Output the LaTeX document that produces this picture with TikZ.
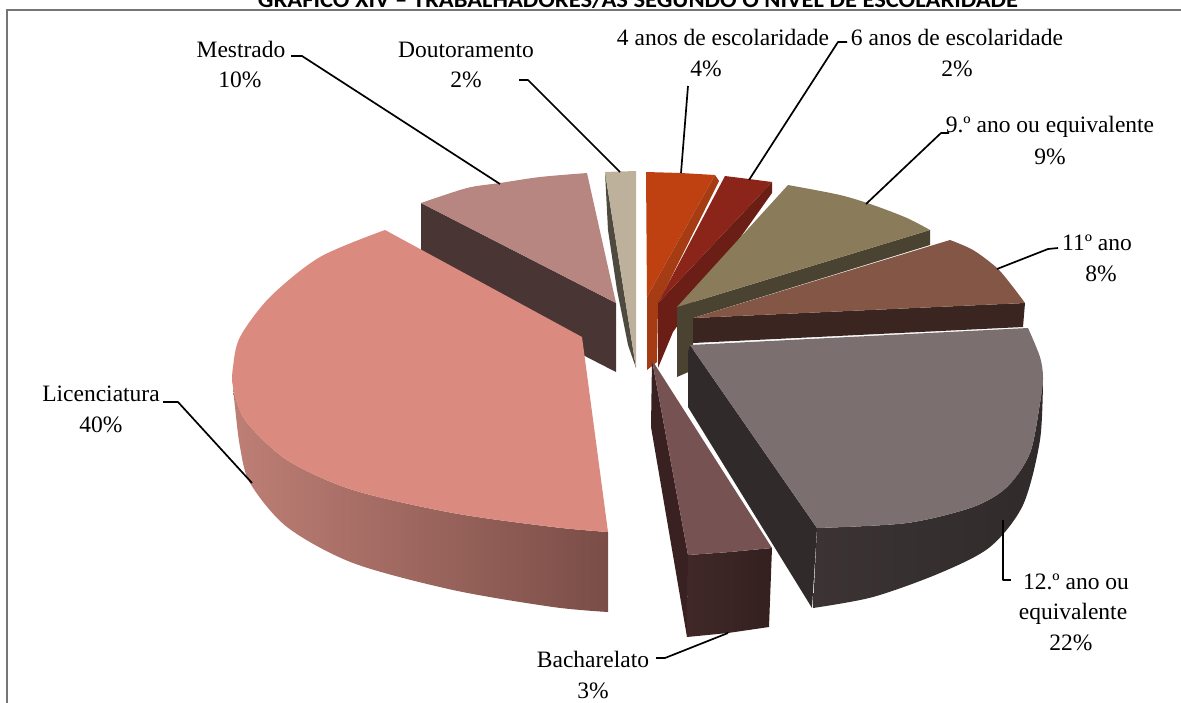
\documentclass[tikz,border=0pt]{standalone}
\usepackage{graphicx}
\usepackage{fontspec}
\setmainfont{Liberation Serif}
\newfontfamily\titlefont{Carlito}
\definecolor{licTop}{HTML}{DB8A80}
\definecolor{licL}{HTML}{BE7F75}
\definecolor{licR}{HTML}{7A4D47}
\definecolor{mesTop}{HTML}{B88680}
\definecolor{mesWall}{HTML}{4A3535}
\definecolor{douTop}{HTML}{BEB19C}
\definecolor{douSide}{HTML}{4F4A40}
\definecolor{qfTop}{HTML}{BF4111}
\definecolor{qfSide}{HTML}{A53C14}
\definecolor{qsTop}{HTML}{8B251A}
\definecolor{qsSide}{HTML}{6B1E15}
\definecolor{qnTop}{HTML}{8A7B5A}
\definecolor{qnSide}{HTML}{4B4332}
\definecolor{qeTop}{HTML}{845646}
\definecolor{qeSide}{HTML}{3A2520}
\definecolor{qtTop}{HTML}{7B6F6F}
\definecolor{qtWall}{HTML}{302A2A}
\definecolor{qtWallL}{HTML}{3C3434}
\definecolor{bachTop}{HTML}{765252}
\definecolor{bachWallL}{HTML}{402828}
\definecolor{bachWallR}{HTML}{342020}
\definecolor{bachInner}{HTML}{3A2121}
\definecolor{frameGray}{HTML}{767676}
\begin{document}
\begin{tikzpicture}[x=1pt,y=-1pt,
  lab/.style={font=\fontsize{23.5}{30}\selectfont, anchor=base, inner sep=0pt},
  lead/.style={draw=black, line width=1.7pt, line join=round},
  framel/.style={draw=frameGray, line width=2pt}]
\useasboundingbox (0,0) rectangle (1181,702);
% frame and title
\coordinate (fTL) at (7,10);
\coordinate (fTR) at (1185,10);
\coordinate (fBL) at (7,706);
\draw[framel] (fTR) -- (fTL) -- (fBL);
\node[anchor=base, inner sep=0pt] (title) at (638,7) {\resizebox{760pt}{19pt}{\titlefont\bfseries GRÁFICO XIV – TRABALHADORES/AS SEGUNDO O NÍVEL DE ESCOLARIDADE}};

% Doutoramento
\fill[douSide] (605,172) -- (636,368) -- (628,345) -- (617,290) -- (608,230) -- cycle;
\fill[douTop] (605,172) -- (636,171) -- (636,368) -- cycle;

% Mestrado
\fill[mesWall] (421,203) -- (616,303) -- (616,372) -- (421,272) -- cycle;
\fill[mesTop] (421,203) -- plot[smooth] coordinates {(421,203) (467,188) (500,183) (540,177) (587,173)} -- (616,303) -- cycle;

% 4 anos
\fill[qfSide] (715,175) -- (719,181) -- (658,304) -- (657,362) -- (647,370) -- (647,297) -- cycle;
\fill[qfTop] (646,172) -- (681,173) -- (715,175) -- (647,297) -- cycle;

% 6 anos
\fill[qsSide] (772,182) -- (772,193) -- (673,332) -- (658,368) -- (658,303) -- cycle;
\fill[qsTop] (725,176) -- (749,179) -- (772,182) -- (658,303) -- cycle;

% 9 ano
\fill[qnSide] (930,230) -- (930,245) -- (693,318) -- (693,370) -- (677,377) -- (677,307) -- cycle;
\fill[qnTop] (677,307) -- plot[smooth] coordinates {(788,185) (840,195) (873,205) (907,218) (930,230)} -- cycle;

% 11 ano
\fill[qeSide] (693,318) -- (1025,303) -- (1023,327) -- (693,343) -- cycle;
\fill[qeTop] (693,318) -- plot[smooth] coordinates {(950,240) (973,250) (997,268) (1013,287) (1025,303)} -- cycle;

% Bacharelato
\fill[bachInner] (652,360) -- (688,555) -- (687,637) -- (651,427) -- cycle;
\shade[left color=bachWallL, right color=bachWallR] (688,555) -- (730,552) -- (772,548) -- (769,627) -- (728,633) -- (687,637) -- cycle;
\fill[bachTop] (652,360) -- (772,548) -- (730,552) -- (688,555) -- cycle;

% 12 ano
\fill[qtWall] (690,345) -- (817,528) -- (812,608) -- (688,407) -- (688,352) -- cycle;
\shade[left color=qtWallL, right color=qtWall] plot[smooth] coordinates {(817,528) (907,523) (973,507) (1007,487) (1030,453) (1040,403) (1043,378)} -- plot[smooth] coordinates {(1043,378) (1040,440) (1023,505) (990,547) (940,573) (873,597) (813,608)} -- cycle;
\fill[qtTop] (690,345) -- (1028,328) -- plot[smooth] coordinates {(1028,328) (1040,357) (1043,378) (1040,403) (1030,453) (1007,487) (973,507) (907,523) (817,528)} -- cycle;

% Licenciatura
\shade[left color=licL, right color=licR] plot[smooth] coordinates {(233,387) (245,420) (287,460) (353,490) (453,513) (553,527) (608,532)} -- (608,612) -- plot[smooth] coordinates {(608,612) (553,607) (453,590) (353,563) (287,527) (250,483) (240,447) (235,407) (233,387)} -- cycle;
\fill[licTop] (385,230) -- (582,337) -- (608,532) -- plot[smooth] coordinates {(608,532) (553,527) (453,513) (353,490) (287,460) (245,420) (233,387) (233,367) (240,337) (270,297) (320,257) (385,230)} -- cycle;

% labels
\node[lab] (mestr) at (241,57) {Mestrado};
\node[lab] (mestrp) at (240,87) {10\%};
\node[lab] (dout) at (466,57) {Doutoramento};
\node[lab] (doutp) at (466,87) {2\%};
\node[lab] (qf) at (723,45) {4 anos de escolaridade};
\node[lab] (qfp) at (706,76) {4\%};
\node[lab] (qs) at (957,45) {6 anos de escolaridade};
\node[lab] (qsp) at (957,76) {2\%};
\node[lab] (qn) at (1050,132) {9.º ano ou equivalente};
\node[lab] (qnp) at (1050,164) {9\%};
\node[lab] (qe) at (1097,250) {11º ano};
\node[lab] (qep) at (1101,281) {8\%};
\node[lab] (qt) at (1076,589) {12.º ano ou};
\node[lab] (qtb) at (1073,619) {equivalente};
\node[lab] (qtp) at (1071,650) {22\%};
\node[lab] (bach) at (593,667) {Bacharelato};
\node[lab] (bachp) at (593,698) {3\%};
\node[lab] (lic) at (101,401) {Licenciatura};
\node[lab] (licp) at (101,432) {40\%};

% leader lines
\coordinate (mA) at (291,56); \coordinate (mB) at (302,56); \coordinate (mC) at (500,184);
\draw[lead] (mA) -- (mB) -- (mC);
\coordinate (dA) at (519,80); \coordinate (dB) at (528,80); \coordinate (dC) at (620,172);
\draw[lead] (dA) -- (dB) -- (dC);
\coordinate (fA) at (688,86); \coordinate (fC) at (681,173);
\draw[lead] (fA) -- (fC);
\coordinate (sA) at (847,42); \coordinate (sB) at (838,42); \coordinate (sC) at (749,180);
\draw[lead] (sA) -- (sB) -- (sC);
\coordinate (nA) at (949,133); \coordinate (nB) at (941,133); \coordinate (nC) at (866,204);
\draw[lead] (nA) -- (nB) -- (nC);
\coordinate (eA) at (1058,248); \coordinate (eB) at (1048,249); \coordinate (eC) at (997,269);
\draw[lead] (eA) -- (eB) -- (eC);
\coordinate (tA) at (1003,520); \coordinate (tB) at (1003,580); \coordinate (tC) at (1011,580);
\draw[lead] (tA) -- (tB) -- (tC);
\coordinate (bA) at (656,658); \coordinate (bB) at (665,658); \coordinate (bC) at (728,633);
\draw[lead] (bA) -- (bB) -- (bC);
\coordinate (lA) at (163,402); \coordinate (lB) at (178,402); \coordinate (lC) at (252,483);
\draw[lead] (lA) -- (lB) -- (lC);
\end{tikzpicture}
\end{document}
